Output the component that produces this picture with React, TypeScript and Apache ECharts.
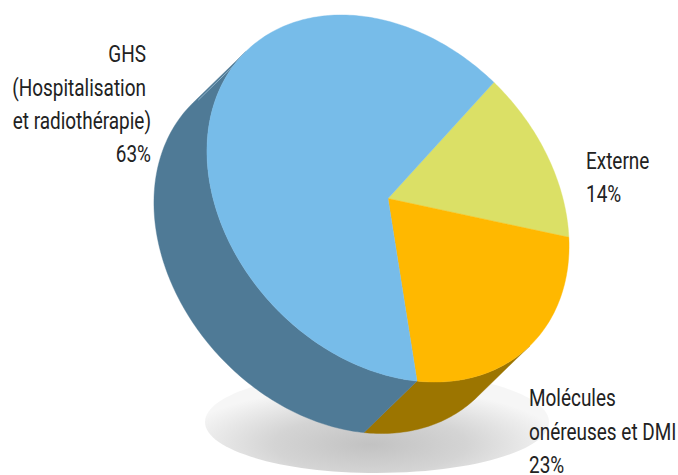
import React, { useEffect, useRef } from "react";
import * as echarts from "echarts";

const categories = ["Externe", "Molécules onéreuses et DMI", "GHS"];
const shares = [14.3, 23.2, 62.5];
const topColors = ["#DBE066", "#FFB800", "#77BCE9"];
const sideColors = ["#B5B84F", "#9C7500", "#4F7A96"];

const BASE = 3;
const labelLines = [
  { text: "GHS", x: 146, y: 63, align: "right" },
  { text: "(Hospitalisation", x: 146, y: 96.5, align: "right" },
  { text: "et radiothérapie)", x: 151, y: 130, align: "right" },
  { text: "63%", x: 151, y: 163, align: "right" },
  { text: "Externe", x: 586, y: 170, align: "left" },
  { text: "14%", x: 586, y: 203, align: "left" },
  { text: "Molécules", x: 529, y: 407, align: "left" },
  { text: "onéreuses et DMI", x: 529, y: 441, align: "left" },
  { text: "23%", x: 529, y: 473.5, align: "left" },
];

const CX = 388;
const CY = 198.5;
const A = 204.5;
const B = 157;
const TILT = (46.5 * Math.PI) / 180;
const DX = -53;
const DY = 51.5;
const START_DEG = 93.2;
const WALL_HI = 0.7;
const WALL_LO = -179.3;

const toXY = (deg: number, ox = 0, oy = 0): number[] => {
  const t = (deg * Math.PI) / 180;
  const u = A * Math.cos(t);
  const v = B * Math.sin(t);
  return [
    CX + u * Math.cos(TILT) + v * Math.sin(TILT) + ox,
    CY + u * Math.sin(TILT) - v * Math.cos(TILT) + oy,
  ];
};

const range = (i: number): number[] => {
  const total = shares.reduce((a, b) => a + b, 0);
  let before = 0;
  for (let k = 0; k < i; k++) before += shares[k];
  const from = START_DEG - (before / total) * 360;
  const to = from - (shares[i] / total) * 360;
  return [from, to];
};

const arc = (from: number, to: number, ox = 0, oy = 0): number[][] => {
  const n = Math.max(2, Math.ceil(Math.abs(to - from)));
  const pts: number[][] = [];
  for (let k = 0; k <= n; k++) pts.push(toXY(from + ((to - from) * k) / n, ox, oy));
  return pts;
};

const renderTop = (params: any) => {
  const i = params.dataIndex;
  const [from, to] = range(i);
  return {
    type: "polygon",
    shape: { points: [[CX, CY], ...arc(from, to)] },
    style: { fill: topColors[i], stroke: topColors[i], lineWidth: 0.4 },
  };
};

const renderSide = (params: any) => {
  const i = params.dataIndex;
  const [from, to] = range(i);
  const hi = Math.min(from, WALL_HI);
  const lo = Math.max(to, WALL_LO);
  if (hi <= lo) return { type: "group", children: [] };
  return {
    type: "polygon",
    shape: { points: [...arc(hi, lo), ...arc(lo, hi, DX, DY)] },
    style: { fill: sideColors[i], stroke: sideColors[i], lineWidth: 0.4 },
  };
};

export default function App() {
  const ref = useRef<HTMLDivElement>(null);
  useEffect(() => {
    const chart = echarts.init(ref.current!, undefined, { renderer: "svg" });
    const edgeA = toXY(WALL_LO, 1.2, 1.2);
    const edgeB = toXY(WALL_LO, DX * 0.92 + 1.2, DY * 0.92 + 1.2);
    chart.setOption({
      animation: false,
      backgroundColor: "#ffffff",
      graphic: [
        {
          type: "ellipse",
          z: 0,
          silent: true,
          shape: { cx: 377, cy: 422, rx: 172, ry: 51 },
          style: {
            fill: new echarts.graphic.RadialGradient(0.48, 0.72, 0.56, [
              { offset: 0, color: "#c2c2c2" },
              { offset: 0.5, color: "#d4d4d4" },
              { offset: 1, color: "#f6f6f6" },
            ]),
          },
        },
        {
          type: "line",
          z: 6,
          silent: true,
          shape: { x1: edgeA[0], y1: edgeA[1], x2: edgeB[0], y2: edgeB[1] },
          style: { stroke: "#9fc0d5", lineWidth: 0.8 },
        },
        ...labelLines.map((l) => ({
          type: "text",
          z: 20,
          silent: true,
          x: l.x,
          y: l.y + BASE,
          scaleX: 0.79,
          style: {
            text: l.text,
            x: 0,
            y: 0,
            textAlign: l.align,
            textVerticalAlign: "bottom",
            fontFamily: "Roboto",
            fontSize: 24,
            fill: "#222222",
          },
        })),
      ],
      series: [
        {
          type: "custom",
          name: "side",
          coordinateSystem: "none",
          z: 5,
          silent: true,
          renderItem: renderSide,
          data: categories.map((c, i) => ({ name: c, value: shares[i] })),
        },
        {
          type: "custom",
          name: "top",
          coordinateSystem: "none",
          z: 7,
          silent: true,
          renderItem: renderTop,
          data: categories.map((c, i) => ({ name: c, value: shares[i] })),
        },
      ],
    });
    return () => chart.dispose();
  }, []);
  return <div ref={ref} style={{ position: "fixed", left: 0, top: 0, width: 678, height: 475 }} />;
}
